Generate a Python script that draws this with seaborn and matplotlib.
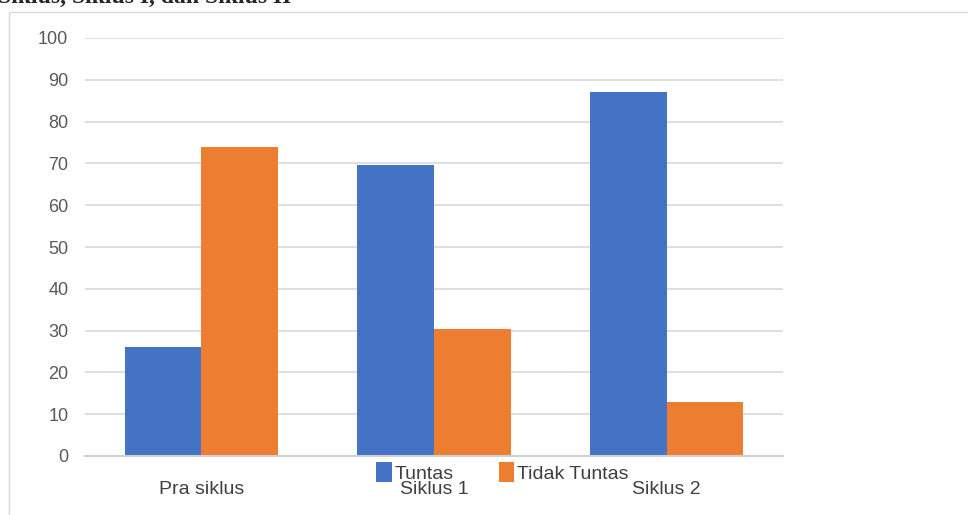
from __future__ import annotations

import matplotlib

matplotlib.use("Agg")

import matplotlib.pyplot as plt
import pandas as pd
import seaborn as sns
from matplotlib.patches import Rectangle

CATEGORIES = ["Pra siklus", "Siklus 1", "Siklus 2"]
TUNTAS = [26, 69.6, 87]
TIDAK_TUNTAS = [74, 30.4, 13]
SERIES = ["Tuntas", "Tidak Tuntas"]
Y_TICKS = [0, 10, 20, 30, 40, 50, 60, 70, 80, 90, 100]

W, H = 968, 515


def main() -> None:
    df = pd.DataFrame(
        {
            "kategori": CATEGORIES * 2,
            "nilai": TUNTAS + TIDAK_TUNTAS,
            "status": [SERIES[0]] * len(CATEGORIES) + [SERIES[1]] * len(CATEGORIES),
        }
    )

    sns.set_theme(style="white")
    plt.rcParams["font.family"] = ["Liberation Sans", "DejaVu Sans"]

    fig = plt.figure(figsize=(W / 100, H / 100), dpi=100)
    ax = fig.add_axes([85 / W, 1 - 456 / H, (783 - 85) / W, (456 - 38) / H])

    # outer chart frame + cut-off caption from the document
    fig.patches.append(
        Rectangle((9 / W, -0.01), 1.0, 1 - 12 / H + 0.01, transform=fig.transFigure,
                  fill=False, edgecolor="#d9d9d9", linewidth=1.0)
    )
    fig.text(-2 / W, 1 - 3 / H, "Siklus, Siklus I, dan Siklus II", va="baseline", ha="left",
             fontsize=17, fontweight="bold", family=["Liberation Serif", "DejaVu Serif"])

    sns.barplot(
        data=df,
        x="kategori",
        y="nilai",
        hue="status",
        hue_order=SERIES,
        order=CATEGORIES,
        palette=["#4472c4", "#ed7d31"],
        width=0.66,
        gap=0,
        saturation=1,
        linewidth=0,
        ax=ax,
    )

    ax.set_xlim(-0.5, 2.5)
    ax.set_ylim(0, 100)
    ax.set_yticks(Y_TICKS)
    ax.set_xlabel("")
    ax.set_ylabel("")
    ax.yaxis.grid(True, color="#d9d9d9", linewidth=1.2)
    ax.set_axisbelow(True)
    for side in ["top", "right", "left"]:
        ax.spines[side].set_visible(False)
    ax.spines["bottom"].set_color("#d0d0d0")
    ax.spines["bottom"].set_linewidth(1.5)
    ax.tick_params(axis="y", length=0, pad=12, labelsize=13, labelcolor="#595959")
    ax.tick_params(axis="x", length=0, pad=18, labelsize=14, labelcolor="#404040")

    leg = ax.legend(
        loc="center",
        bbox_to_anchor=(0.598, -0.04),
        ncol=2,
        frameon=False,
        fontsize=14,
        handlelength=0.8,
        handleheight=1.2,
        handletextpad=0.15,
        columnspacing=2.3,
        borderaxespad=0,
    )
    for t in leg.get_texts():
        t.set_color("#404040")

    fig.savefig("out.png", dpi=100)
    plt.close(fig)


if __name__ == "__main__":
    main()
